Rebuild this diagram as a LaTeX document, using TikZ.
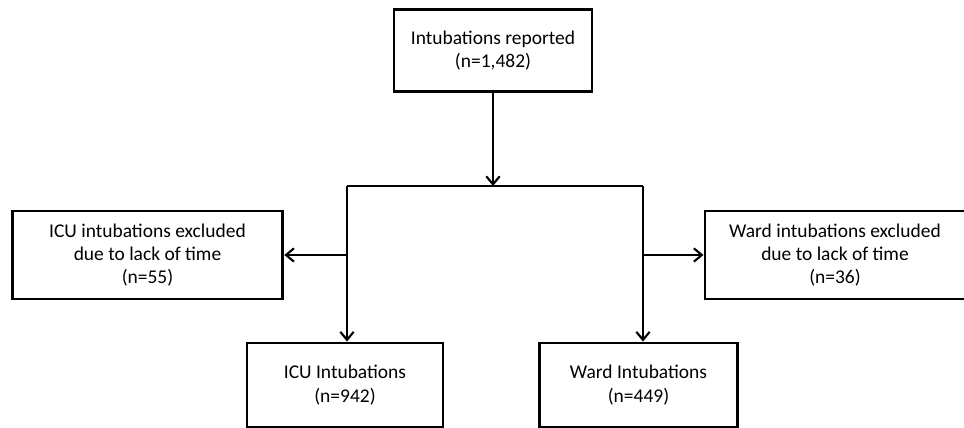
\documentclass[tikz,border=0pt]{standalone}
\usepackage{fontspec}
\setmainfont{Carlito}
\usepackage{tikz}
\usetikzlibrary{arrows.meta}

\begin{document}
\begin{tikzpicture}[x=0.75pt, y=-0.75pt,
  flowbox/.style={rectangle, draw=black, line width=2.2pt, fill=white, align=center, inner sep=2pt, font=\fontsize{14.6}{17.5}\selectfont},
  link/.style={line width=1.1pt, -{Straight Barb[length=6pt, width=10pt, line width=1.6pt]}}]
\useasboundingbox (0,0) rectangle (964,428);
\node[flowbox, minimum width=148.5pt, minimum height=62pt] at (493, 50.5) (reported) {Intubations reported\\(n=1,482)};
\node[flowbox, minimum width=203pt, minimum height=66pt] at (147.5, 255) (icuexcl) {ICU intubations excluded\\due to lack of time\\(n=55)};
\node[flowbox, minimum width=195pt, minimum height=66pt] at (835, 255) (wardexcl) {Ward intubations excluded\\due to lack of time\\(n=36)};
\node[flowbox, minimum width=147pt, minimum height=63pt] at (345, 385) (icu) {ICU Intubations\\(n=942)};
\node[flowbox, minimum width=148pt, minimum height=63pt] at (638.5, 385) (ward) {Ward Intubations\\(n=449)};
\coordinate (split) at (493, 186);
\coordinate (splitl) at (347, 186);
\coordinate (splitr) at (643, 186);
\draw[link] (reported) -- (split);
\draw[line width=1.1pt] (splitl) -- (splitr);
\draw[line width=1.1pt] (splitl) -- (splitl |- icuexcl);
\draw[line width=1.1pt] (splitr) -- (splitr |- wardexcl);
\draw[link] (splitl |- icuexcl) -- (icuexcl.east);
\draw[link] (splitr |- wardexcl) -- (wardexcl.west);
\draw[link] (splitl |- icuexcl) -- (splitl |- icu.north);
\draw[link] (splitr |- wardexcl) -- (splitr |- ward.north);
\end{tikzpicture}
\end{document}
